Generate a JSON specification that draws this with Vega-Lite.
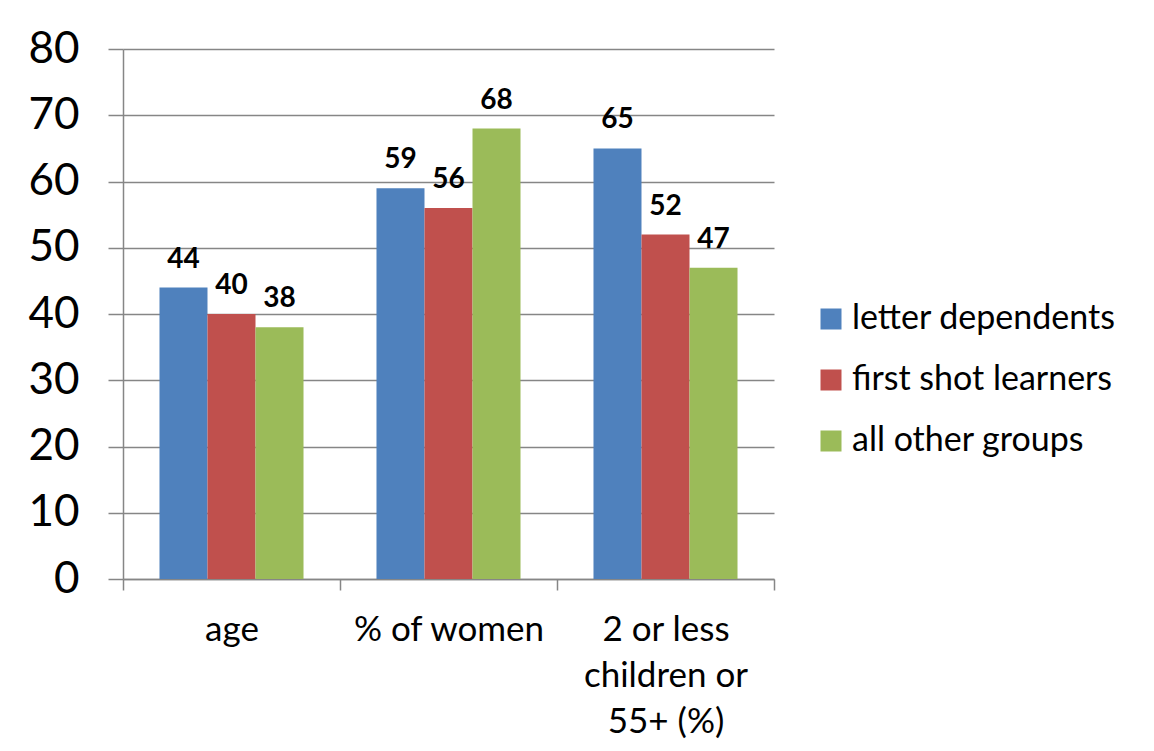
{
  "$schema": "https://vega.github.io/schema/vega-lite/v6.json",
  "width": 651,
  "height": 530,
  "autosize": {"type": "none"},
  "padding": {"left": 123, "top": 49, "right": 380, "bottom": 172},
  "background": "white",
  "data": {
    "values": [
      {"measure": "age", "group": "letter dependents", "value": 44},
      {"measure": "age", "group": "first shot learners", "value": 40},
      {"measure": "age", "group": "all other groups", "value": 38},
      {"measure": "% of women", "group": "letter dependents", "value": 59},
      {"measure": "% of women", "group": "first shot learners", "value": 56},
      {"measure": "% of women", "group": "all other groups", "value": 68},
      {"measure": "2 or less children or 55+ (%)", "group": "letter dependents", "value": 65},
      {"measure": "2 or less children or 55+ (%)", "group": "first shot learners", "value": 52},
      {"measure": "2 or less children or 55+ (%)", "group": "all other groups", "value": 47}
    ]
  },
  "encoding": {
    "x": {
      "field": "measure",
      "type": "nominal",
      "sort": null,
      "scale": {"paddingInner": 0, "paddingOuter": 0},
      "axis": {
        "title": null,
        "labelAngle": 0,
        "labelFont": "Lato",
        "labelFontSize": 35,
        "labelColor": "#000000",
        "labelPadding": 22,
        "labelBaseline": "top",
        "labelLineHeight": 46,
        "labelLimit": 400,
        "labelExpr": "datum.label == '2 or less children or 55+ (%)' ? ['2 or less', 'children or', '55+ (%)'] : datum.label",
        "tickBand": "extent",
        "tickSize": 11,
        "tickColor": "#868686",
        "tickWidth": 1.5,
        "domainColor": "#868686",
        "domainWidth": 1.5,
        "grid": false
      }
    },
    "xOffset": {
      "field": "group",
      "type": "nominal",
      "sort": ["letter dependents", "first shot learners", "all other groups"],
      "scale": {"paddingInner": 0, "paddingOuter": 0.76}
    },
    "y": {
      "field": "value",
      "type": "quantitative",
      "scale": {"domain": [0, 80]},
      "axis": {
        "title": null,
        "values": [0, 10, 20, 30, 40, 50, 60, 70, 80],
        "labelFont": "Lato",
        "labelFontSize": 44,
        "labelColor": "#000000",
        "labelPadding": 29,
        "tickSize": 15,
        "tickColor": "#868686",
        "tickWidth": 1.5,
        "domainColor": "#868686",
        "domainWidth": 1.5,
        "grid": true,
        "gridColor": "#868686",
        "gridWidth": 1.5
      }
    }
  },
  "layer": [
    {
      "mark": {"type": "bar"},
      "encoding": {
        "color": {
          "field": "group",
          "type": "nominal",
          "sort": ["letter dependents", "first shot learners", "all other groups"],
          "scale": {
            "domain": ["letter dependents", "first shot learners", "all other groups"],
            "range": ["#4F81BD", "#C0504D", "#9BBB59"]
          },
          "legend": {
            "title": null,
            "orient": "none",
            "legendX": 691,
            "legendY": 253,
            "symbolType": "square",
            "symbolSize": 441,
            "symbolStrokeWidth": 0,
            "labelFont": "Lato",
            "labelFontSize": 34,
            "labelColor": "#000000",
            "labelOffset": 4,
            "rowPadding": 27,
            "labelLimit": 400
          }
        }
      }
    },
    {
      "mark": {
        "type": "text",
        "font": "Lato",
        "fontWeight": "bold",
        "fontSize": 28,
        "color": "#000000",
        "baseline": "alphabetic",
        "dy": -20
      },
      "encoding": {
        "text": {"field": "value", "type": "quantitative"}
      }
    }
  ],
  "config": {
    "view": {"stroke": null}
  }
}
